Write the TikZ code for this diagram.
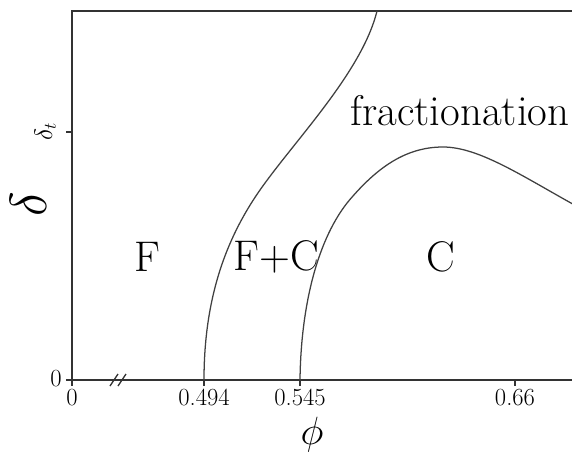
\RequirePackage{fix-cm}
\documentclass[tikz,border=0pt]{standalone}
\usepackage{amsmath,amssymb}
\usepackage{tikz}
\usetikzlibrary{positioning}

\begin{document}
\begin{tikzpicture}[x=0.025cm, y=-0.025cm,
        axis/.style={line width=1.2pt, draw=black!80},
        boundary/.style={line width=0.9pt, draw=black!75},
        tickmark/.style={line width=0.9pt, draw=black!80},
        region/.style={font=\fontsize{30.5}{36}\selectfont, anchor=base},
        ticklabel/.style={font=\fontsize{17.5}{21}\selectfont, anchor=base},
        axislabel/.style={font=\fontsize{28}{34}\selectfont}]

        \useasboundingbox (0,0) rectangle (572,453);

        % frame of the phase diagram
        \draw[axis] (585,11) -- (72,11) -- (72,380) -- (585,380);

        % ticks
        \draw[tickmark] (66,132) -- (72,132);
        \draw[tickmark] (66,380) -- (72,380);
        \draw[tickmark] (72,380) -- (72,386);
        \draw[tickmark] (204,380) -- (204,386);
        \draw[tickmark] (300,380) -- (300,386);
        \draw[tickmark] (515,380) -- (515,386);

        % axis break
        \draw[tickmark] (110,386) -- (118,374);
        \draw[tickmark] (118,386) -- (126,374);

        % phase boundaries
        \draw[boundary] (204,380) .. controls (204,300) and (225,240) .. (260,190)
            .. controls (295,140) and (362,72) .. (377,11);
        \draw[boundary] (300,380) .. controls (301,300) and (320,232) .. (353,196)
            .. controls (382,163) and (410,147) .. (443,147)
            .. controls (480,147) and (525,178) .. (580,208);

        % labels
        \node[ticklabel] (y0) at (56,386) {0};
        \node[ticklabel, rotate=90, font=\fontsize{18}{22}\selectfont] (ydt) at (52,132) {$\delta_t$};
        \node[ticklabel] (x0) at (72,405) {0};
        \node[ticklabel] (xa) at (204,405) {0.494};
        \node[ticklabel] (xb) at (300,405) {0.545};
        \node[ticklabel] (xc) at (515,405) {0.66};

        \node[axislabel, rotate=90, font=\fontsize{37}{44}\selectfont] (ylab) at (28,204) {$\delta$};
        \node[axislabel] (xlab) at (312,435) {$\phi$};

        \node[region] (fluid) at (147,271) {F};
        \node[region] (coex) at (276,270) {F+C};
        \node[region] (cryst) at (441,271) {C};
        \node[region] (frac) at (460,125) {fractionation};
    \end{tikzpicture}
\end{document}
